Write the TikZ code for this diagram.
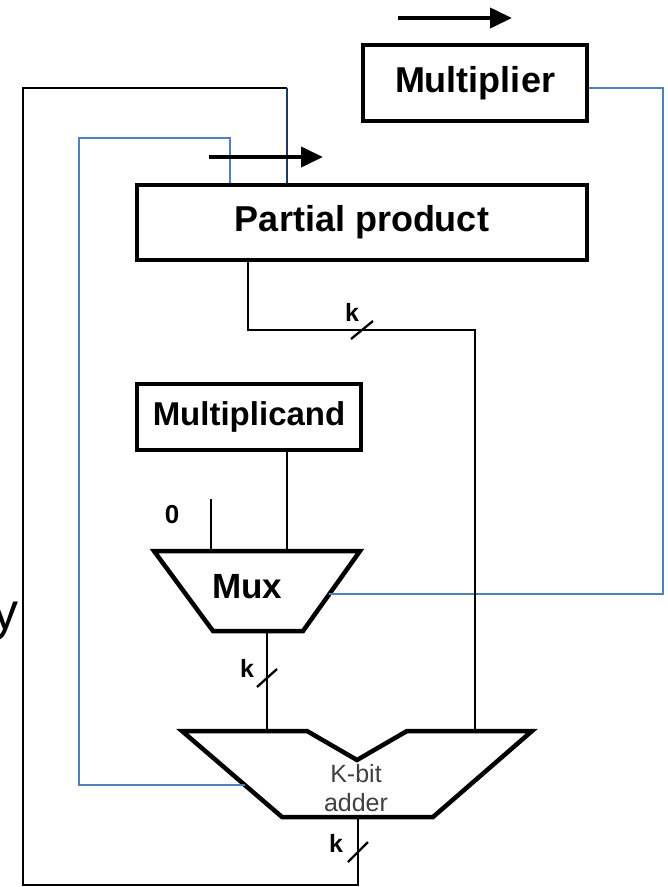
\documentclass[tikz,border=0pt]{standalone}
\usepackage{fontspec}
\setmainfont{Liberation Sans}
\usetikzlibrary{arrows.meta,calc}
\definecolor{wireblue}{RGB}{79,129,189}
\definecolor{wirenavy}{RGB}{31,56,100}
\begin{document}
\begin{tikzpicture}[x=1pt,y=-1pt,
  box/.style={draw,line width=4pt,font=\bfseries\fontsize{36}{40}\selectfont,inner sep=0pt},
  wire/.style={line width=2.3pt},
  bwire/.style={line width=2.3pt,draw=wireblue},
  unitshape/.style={line width=4.5pt,line join=miter},
  lbl/.style={font=\bfseries\fontsize{25}{28}\selectfont,inner sep=0pt},
  shiftarrow/.style={line width=4pt,-{Triangle[length=22pt,width=20pt]}},
  slash/.style={line width=2.3pt}]
\useasboundingbox (0,0) rectangle (668,887);

% boxes
\node[box,minimum width=224pt,minimum height=76pt] (mult) at (475,83) {Multiplier};
\node[box,minimum width=450pt,minimum height=75pt] (pp) at (362,222.5) {Partial product};
\node[box,minimum width=224pt,minimum height=66pt,font=\bfseries\fontsize{33}{36}\selectfont] (mcand) at (249,417) {Multiplicand};

% mux
\draw[unitshape] (154,551) -- (360,551) -- (303,631) -- (213,631) -- cycle;
\node[inner sep=0pt,font=\bfseries\fontsize{35}{38}\selectfont] (muxlbl) at (247,587) {Mux};

% adder
\draw[unitshape] (182,731) -- (307,731) -- (357,760) -- (407,731) -- (532,731) -- (433,817) -- (282,817) -- cycle;
\node[inner sep=0pt,align=center,text=black!75,font=\fontsize{25}{29}\selectfont] (addlbl) at (356,788) {K-bit\\adder};

% coordinates
\coordinate (cA) at (287,0);
\coordinate (cB) at (230,0);
\coordinate (cC) at (248,0);
\coordinate (muxT) at (287,551);
\coordinate (zeroTop) at (211,499);
\coordinate (zeroIn) at (211,551);
\coordinate (muxR) at (329,594);
\coordinate (muxB) at (267,631);
\coordinate (addInL) at (267,731);
\coordinate (addInR) at (475,731);
\coordinate (addL) at (245,785);
\coordinate (addOut) at (358,817);
\coordinate (rightTurn) at (663,88);
\coordinate (blackTop) at (23,88);
\coordinate (blackBot) at (23,885);
\coordinate (blueCorner) at (79,138);
\coordinate (ppTurn) at (248,330);
\coordinate (s1) at (362,330);
\coordinate (s2) at (267,678);
\coordinate (s3) at (358,852);
\coordinate (a1s) at (398,18);
\coordinate (a1e) at (512,18);
\coordinate (a2s) at (209,157);
\coordinate (a2e) at (323,157);

% wires
\draw[bwire] ([yshift=-5pt]mult.east) -- (rightTurn) |- (muxR);
\draw[wire] (addOut) -- (addOut |- blackBot) -- (blackBot) -- (blackTop) -- (cA |- blackTop);
\draw[wire,draw=wirenavy] (cA |- blackTop) -- (cA |- pp.north);
\draw[bwire] (addL) -- (blueCorner |- addL) -- (blueCorner) -- (cB |- blueCorner) -- (cB |- pp.north);
\draw[wire] (cC |- pp.south) -- (ppTurn) -- (addInR |- ppTurn) -- (addInR);
\draw[wire] (cA |- mcand.south) -- (muxT);
\draw[wire] (zeroTop) -- (zeroIn);
\draw[wire] (muxB) -- (addInL);

% bus slashes
\draw[slash] (s1) +(-11,9) -- +(11,-9);
\draw[slash] (s2) +(-10,9) -- +(10,-9);
\draw[slash] (s3) +(-10,10) -- +(10,-10);

% labels
\node[lbl] (k1) at (352,312) {k};
\node[lbl] (k2) at (247,668) {k};
\node[lbl] (k3) at (336,843) {k};
\node[lbl,font=\bfseries\fontsize{26}{28}\selectfont] (zero) at (172,515) {0};
\node[inner sep=0pt,anchor=base east,font=\fontsize{52}{56}\selectfont] (ylbl) at (19,629) {y};

% shift arrows
\draw[shiftarrow] (a1s) -- (a1e);
\draw[shiftarrow] (a2s) -- (a2e);
\end{tikzpicture}
\end{document}
